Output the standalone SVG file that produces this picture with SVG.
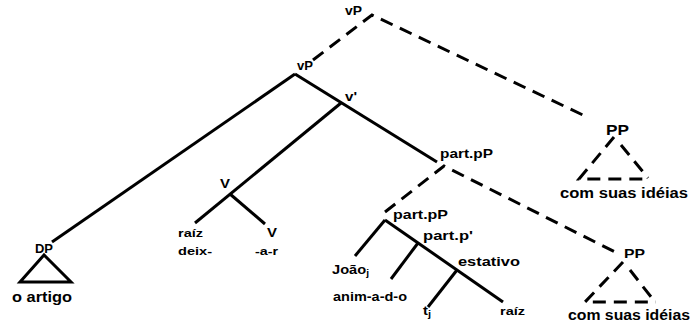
<svg xmlns="http://www.w3.org/2000/svg" width="695" height="327" viewBox="0 0 695 327">
<style>
text{font-family:"Liberation Sans",Arial,sans-serif;font-weight:bold;fill:#000}
.s{fill:none;stroke:#000;stroke-width:3;stroke-linecap:butt}
.d{fill:none;stroke:#000;stroke-width:3;stroke-dasharray:13 8;stroke-linecap:butt}
</style>
<rect width="695" height="327" fill="#fff"/>
<g id="connectors">
<line class="s" x1="295" y1="74" x2="52" y2="242"/>
<line class="s" x1="295" y1="74" x2="437" y2="162"/>
<line class="s" x1="341" y1="103" x2="195" y2="223"/>
<line class="s" x1="230" y1="194" x2="265" y2="224"/>
<line class="s" x1="385" y1="220" x2="355" y2="256"/>
<line class="s" x1="385" y1="220" x2="503" y2="302"/>
<line class="s" x1="418" y1="243" x2="391" y2="279"/>
<line class="s" x1="457" y1="270" x2="428" y2="307"/>
<path class="d" d="M313,60 L372,15 L585,116"/>
<path class="d" d="M385,212 L444,166 L615,252"/>
</g>
<g id="vP-top"><text x="345" y="15" font-size="12" textLength="17" lengthAdjust="spacingAndGlyphs">vP</text></g>
<g id="vP"><text x="297" y="70" font-size="12" textLength="16" lengthAdjust="spacingAndGlyphs">vP</text></g>
<g id="v-bar"><text x="345" y="101" font-size="12" textLength="12" lengthAdjust="spacingAndGlyphs">v'</text></g>
<g id="partpP-upper"><text x="440" y="158" font-size="12.5" textLength="53" lengthAdjust="spacingAndGlyphs">part.pP</text></g>
<g id="PP-upper">
<text x="606" y="135" font-size="14" textLength="23" lengthAdjust="spacingAndGlyphs">PP</text>
<path class="d" d="M614,137 L579,179 L650,179"/>
<line class="d" x1="621" y1="145" x2="648" y2="178"/>
<text x="560" y="198" font-size="14" textLength="128" lengthAdjust="spacingAndGlyphs">com suas idéias</text>
</g>
<g id="V">
<text x="220" y="188" font-size="12" textLength="10" lengthAdjust="spacingAndGlyphs">V</text>
<text x="178" y="237" font-size="11.5" textLength="25" lengthAdjust="spacingAndGlyphs">raíz</text>
<text x="178" y="255" font-size="11.5" textLength="34" lengthAdjust="spacingAndGlyphs">deix-</text>
</g>
<g id="V-right">
<text x="267" y="237" font-size="12" textLength="10" lengthAdjust="spacingAndGlyphs">V</text>
<text x="255" y="255" font-size="11.5" textLength="23" lengthAdjust="spacingAndGlyphs">-a-r</text>
</g>
<g id="DP">
<text x="35" y="253" font-size="12" textLength="18" lengthAdjust="spacingAndGlyphs">DP</text>
<path class="s" d="M44,255 L20,282 L71,282 Z"/>
<text x="12" y="302" font-size="14" textLength="60" lengthAdjust="spacingAndGlyphs">o artigo</text>
</g>
<g id="partpP-lower"><text x="393" y="219" font-size="13" textLength="55" lengthAdjust="spacingAndGlyphs">part.pP</text></g>
<g id="partp-bar"><text x="423" y="240" font-size="13" textLength="50" lengthAdjust="spacingAndGlyphs">part.p'</text></g>
<g id="Joao"><text x="332" y="274" font-size="13" textLength="37" lengthAdjust="spacingAndGlyphs">João<tspan font-size="9" dy="2">j</tspan></text></g>
<g id="anim"><text x="333" y="301" font-size="12" textLength="74" lengthAdjust="spacingAndGlyphs">anim-a-d-o</text></g>
<g id="estativo"><text x="458" y="266" font-size="13.5" textLength="62" lengthAdjust="spacingAndGlyphs">estativo</text></g>
<g id="tj"><text x="423" y="315" font-size="12" textLength="8" lengthAdjust="spacingAndGlyphs">t<tspan font-size="9" dy="2">j</tspan></text></g>
<g id="raiz-lower"><text x="500" y="315" font-size="11.5" textLength="25" lengthAdjust="spacingAndGlyphs">raíz</text></g>
<g id="PP-lower">
<text x="624" y="258" font-size="13" textLength="21" lengthAdjust="spacingAndGlyphs">PP</text>
<path class="d" d="M623,262 L585,302 L656,302"/>
<line class="d" x1="630" y1="270" x2="655" y2="302"/>
<text x="568" y="320" font-size="14" textLength="122" lengthAdjust="spacingAndGlyphs">com suas idéias</text>
</g>
</svg>
